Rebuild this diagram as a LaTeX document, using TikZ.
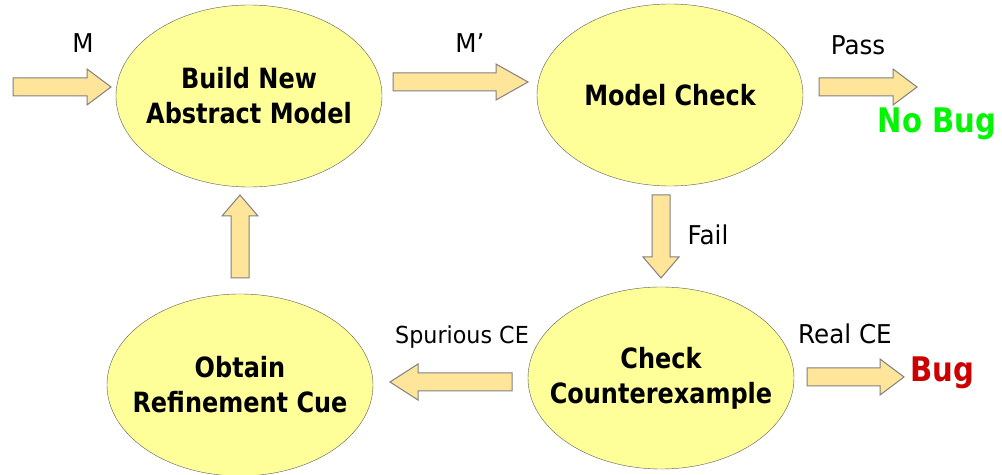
\documentclass[tikz,border=0pt]{standalone}
\usepackage{fontspec}
\setmainfont{DejaVu Sans}[FakeStretch=0.95,BoldFeatures={FakeStretch=0.86}]
\usepackage{tikz}
\usetikzlibrary{shapes,calc}
\definecolor{stagefill}{RGB}{255,255,153}
\definecolor{stageline}{RGB}{90,90,90}
\definecolor{arrowfill}{RGB}{255,229,153}
\definecolor{arrowline}{RGB}{128,128,128}
\definecolor{nobuggreen}{RGB}{0,245,0}
\definecolor{bugred}{RGB}{204,0,0}

% block arrow between two named coordinates
\newcommand{\fatarrow}[3][24bp]{%
  \coordinate (hb) at ($(#3)!#1!(#2)$);
  \draw [blockarrow] ($(#2)!9bp!90:(#3)$) -- ($(hb)!9bp!-90:(#2)$)
    -- ($(hb)!18bp!-90:(#2)$) -- (#3) -- ($(hb)!18bp!90:(#2)$)
    -- ($(hb)!9bp!90:(#2)$) -- ($(#2)!9bp!-90:(#3)$) -- cycle;}

\begin{document}
\begin{tikzpicture}[line join=miter,
  stage/.style={draw=stageline,fill=stagefill,ellipse,minimum width=266bp,minimum height=182bp},
  stagetext/.style={align=center,font=\bfseries\fontsize{28}{35}\selectfont},
  lbl/.style={anchor=base,font=\fontsize{26}{30}\selectfont},
  verdict/.style={anchor=base,font=\bfseries\fontsize{34}{38}\selectfont},
  blockarrow/.style={draw=arrowline,fill=arrowfill,line width=1bp}]
%%
\useasboundingbox (0bp,0bp) rectangle (1002bp,475bp);
\node (build) at (249bp,379bp) [stage,label={[stagetext]center:Build New\\Abstract Model}] {};
  \node (check) at (670bp,380bp) [stage,label={[stagetext]center:Model Check}] {};
  \node (cex) at (661bp,97bp) [stage,label={[stagetext]center:Check\\Counterexample}] {};
  \node (refine) at (240bp,90bp) [stage,label={[stagetext]center:Obtain\\Refinement Cue}] {};
%%
\coordinate (m0) at (13bp,388bp);
  \coordinate (m1) at (111bp,388bp);
  \coordinate (mp0) at (393bp,393bp);
  \coordinate (mp1) at (528bp,393bp);
  \coordinate (pass0) at (819bp,388bp);
  \coordinate (pass1) at (917bp,388bp);
  \coordinate (fail0) at (661bp,280bp);
  \coordinate (fail1) at (661bp,197bp);
  \coordinate (up0) at (240bp,197bp);
  \coordinate (up1) at (240bp,280bp);
  \coordinate (spur0) at (512bp,93bp);
  \coordinate (spur1) at (390bp,93bp);
  \coordinate (real0) at (807bp,98bp);
  \coordinate (real1) at (904bp,98bp);
  \fatarrow{m0}{m1}
  \fatarrow[32bp]{mp0}{mp1}
  \fatarrow{pass0}{pass1}
  \fatarrow[21bp]{fail0}{fail1}
  \fatarrow[21bp]{up0}{up1}
  \fatarrow[28bp]{spur0}{spur1}
  \fatarrow{real0}{real1}
%%
\node (lm) at (83bp,422bp) [lbl] {M};
  \node (lmp) at (470bp,422bp) [lbl] {M’};
  \node (lpass) at (858bp,420bp) [lbl] {Pass};
  \node (lnobug) at (937bp,342bp) [verdict,text=nobuggreen] {No Bug};
  \node (lfail) at (708bp,230bp) [lbl] {Fail};
  \node (lspur) at (462bp,131bp) [lbl,font=\fontsize{23.5}{28}\selectfont] {Spurious CE};
  \node (lreal) at (845bp,131bp) [lbl] {Real CE};
  \node (lbug) at (942bp,93bp) [verdict,text=bugred] {Bug};
%
\end{tikzpicture}
\end{document}
